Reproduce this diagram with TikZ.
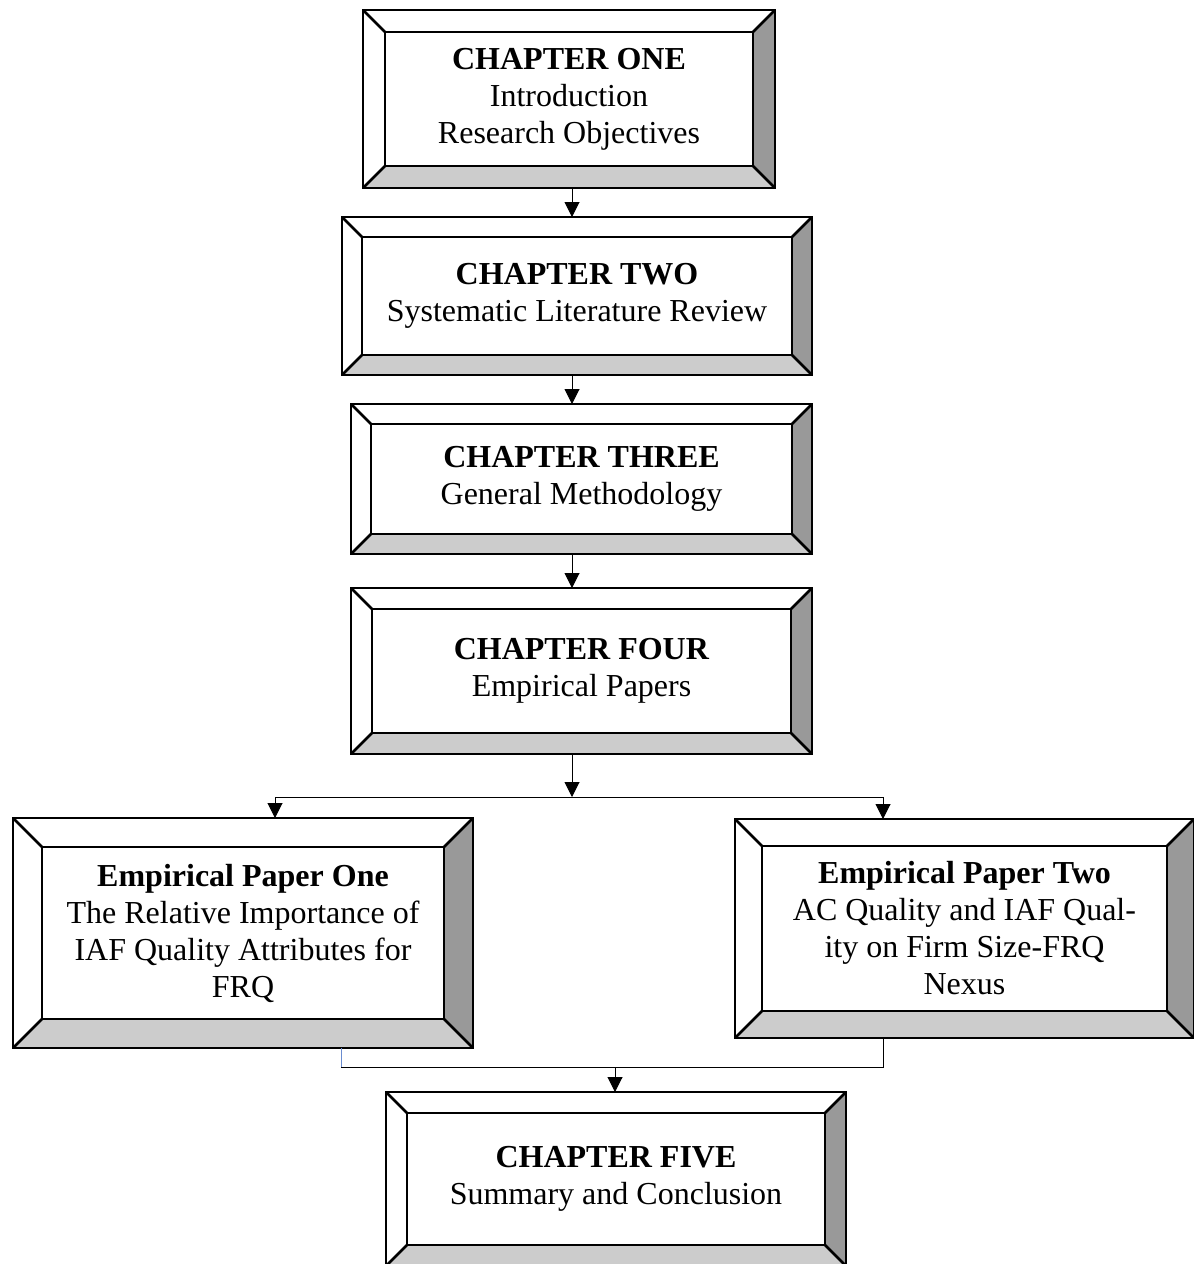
\documentclass[tikz,border=0pt]{standalone}
\usepackage{fontspec}
\setmainfont{Liberation Serif}
\usetikzlibrary{arrows.meta}
\definecolor{shR}{HTML}{999999}
\definecolor{shB}{HTML}{CCCCCC}
\definecolor{linkblue}{HTML}{6A8CD0}
\tikzset{
  frame/.style={fill=white, draw=none, inner sep=0pt, outer sep=0pt, rectangle},
  bevline/.style={draw=black, line width=2.6pt, line join=miter},
  label/.style={align=center, inner sep=0pt, font=\fontsize{32}{37}\selectfont},
  conn/.style={draw=black, line width=1pt},
  arr/.style={conn, -{Triangle[length=15pt,width=15pt]}},
}
\newcommand\bevbox[7]{%
  \pgfmathsetmacro\bxa{#2+#6}\pgfmathsetmacro\bya{#3+#6}%
  \pgfmathsetmacro\bxb{#4-#6}\pgfmathsetmacro\byb{#5-#6}%
  \pgfmathsetmacro\bcx{(#2+#4)/2}\pgfmathsetmacro\bcy{(#3+#5)/2}%
  \pgfmathsetmacro\bw{#4-#2}\pgfmathsetmacro\bh{#5-#3}%
  \pgfmathsetmacro\icy{(\bya+\byb)/2}%
  \node[frame, minimum width=\bw pt, minimum height=\bh pt] (#1) at (\bcx,\bcy) {};
  \fill[shR] (#4,#3) -- (#4,#5) -- (\bxb,\byb) -- (\bxb,\bya) -- cycle;
  \fill[shB] (#2,#5) -- (#4,#5) -- (\bxb,\byb) -- (\bxa,\byb) -- cycle;
  \draw[bevline] (#2,#3) -- (\bxa,\bya) (#4,#3) -- (\bxb,\bya) (#2,#5) -- (\bxa,\byb) (#4,#5) -- (\bxb,\byb);
  \draw[bevline] (\bxa,\bya) rectangle (\bxb,\byb);
  \draw[bevline] (#1.north west) rectangle (#1.south east);
  \node[label] (#1-t) at (\bcx,\icy) {#7};
}
\begin{document}
\begin{tikzpicture}[x=1pt,y=-1pt]
\useasboundingbox[fill=white] (0,0) rectangle (1194,1264);

\bevbox{c1}{363}{10}{775}{188}{22}{\textbf{CHAPTER ONE}\\Introduction\\Research Objectives}
\bevbox{c2}{342}{217}{812}{375}{20}{\textbf{CHAPTER TWO}\\Systematic Literature Review}
\bevbox{c3}{351}{404}{812}{554}{20}{\textbf{CHAPTER THREE}\\General Methodology}
\bevbox{c4}{351}{588}{812}{754}{21}{\textbf{CHAPTER FOUR}\\Empirical Papers}
\bevbox{p1}{13}{818}{473}{1048}{29}{\textbf{Empirical Paper One}\\The Relative Importance of\\IAF Quality Attributes for\\FRQ}
\bevbox{p2}{735}{819}{1194}{1038}{27}{\textbf{Empirical Paper Two}\\AC Quality and IAF Qual-\\ity on Firm Size-FRQ\\Nexus}
\bevbox{c5}{386}{1092}{846}{1266}{21}{\textbf{CHAPTER FIVE}\\Summary and Conclusion}

% connector guide coordinates
\coordinate (ax) at (572,0);
\coordinate (split) at (572,797);
\coordinate (sl) at (275,797);
\coordinate (sr) at (883,797);
\coordinate (jl) at (341,1067);
\coordinate (jr) at (883,1067);
\coordinate (jm) at (615,1067);

\draw[arr] (c1.south -| ax) -- (c2.north -| ax);
\draw[arr] (c2.south -| ax) -- (c3.north -| ax);
\draw[arr] (c3.south -| ax) -- (c4.north -| ax);
\draw[arr] (c4.south -| ax) -- (split);
\draw[conn] (sl) -- (sr);
\draw[arr] (sl) -- (p1.north -| sl);
\draw[arr] (sr) -- (p2.north -| sr);

\draw[conn, draw=linkblue] (p1.south -| jl) -- (jl);
\draw[conn] (jl) -- (jr) -- (p2.south -| jr);
\draw[arr] (jm) -- (c5.north -| jm);
\end{tikzpicture}
\end{document}
